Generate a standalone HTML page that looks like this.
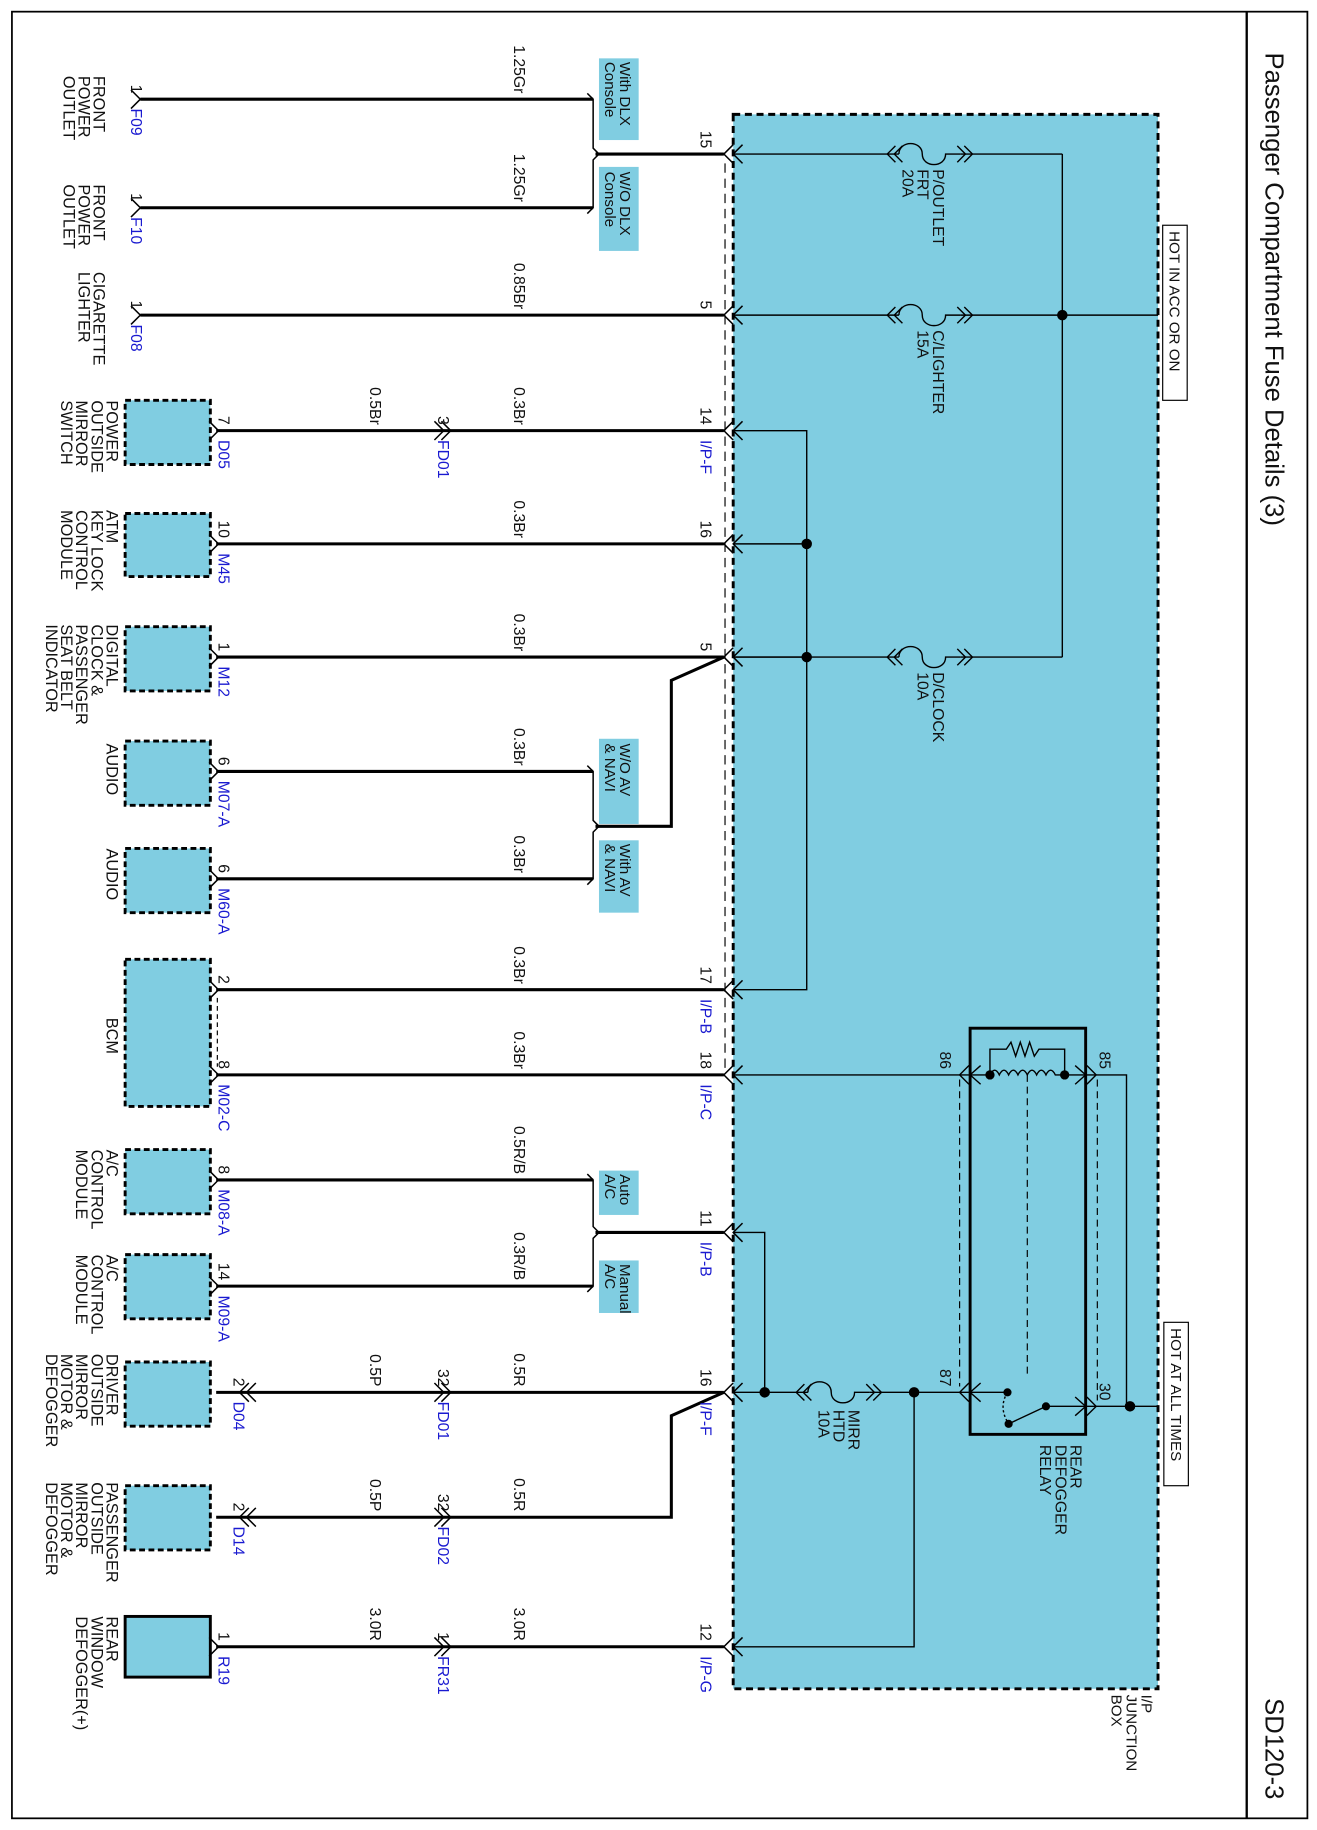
<!DOCTYPE html>
<html><head><meta charset="utf-8"><style>
html,body{margin:0;padding:0;background:#fff}
svg{display:block}
text{font-family:"Liberation Sans",Arial,sans-serif;fill:#111}
.b{fill:#1a1ad0}
</style></head><body>
<svg width="1317" height="1830" viewBox="0 0 1128 1568" xmlns="http://www.w3.org/2000/svg">
<rect x="10" y="10" width="1110" height="1548" fill="none" stroke="#000" stroke-width="1.5"/>
<line x1="1068" y1="10" x2="1068" y2="1558" stroke="#000" stroke-width="2"/>
<text font-size="22" transform="translate(1084,45) rotate(90)">Passenger Compartment Fuse Details (3)</text>
<text font-size="22" transform="translate(1084,1455) rotate(90)">SD120-3</text>

<!-- junction box -->
<rect x="628" y="98" width="364" height="1349" fill="#80CDE1" stroke="#000" stroke-width="2.5" stroke-dasharray="6,4"/>
<line x1="621" y1="140" x2="621" y2="915" stroke="#000" stroke-width="1" stroke-dasharray="8,5"/>

<g font-size="13" >
<rect x="996" y="193" width="21" height="150" fill="#fff" stroke="#000"/>
<text transform="translate(1002,198) rotate(90)">HOT IN ACC OR ON</text>
<rect x="997" y="1133" width="21" height="140" fill="#fff" stroke="#000"/>
<text transform="translate(1003,1138) rotate(90)">HOT AT ALL TIMES</text>
<text transform="translate(978,1452) rotate(90)"><tspan x="0">I/P</tspan><tspan x="0" dy="13">JUNCTION</tspan><tspan x="0" dy="13">BOX</tspan></text>
</g>

<!-- option boxes -->
<g fill="#80CDE1">
<rect x="513" y="50" width="34" height="70"/>
<rect x="513" y="143" width="34" height="72"/>
<rect x="513" y="633" width="34" height="73"/>
<rect x="513" y="720" width="34" height="62"/>
<rect x="513" y="1003" width="34" height="38"/>
<rect x="513" y="1080" width="34" height="45"/>
</g>
<g font-size="13">
<text transform="translate(531,53) rotate(90)"><tspan x="0">With DLX</tspan><tspan x="0" dy="13">Console</tspan></text>
<text transform="translate(531,147) rotate(90)"><tspan x="0">W/O DLX</tspan><tspan x="0" dy="13">Console</tspan></text>
<text transform="translate(531,637) rotate(90)"><tspan x="0">W/O AV</tspan><tspan x="0" dy="13">&amp; NAVI</tspan></text>
<text transform="translate(531,723) rotate(90)"><tspan x="0">With AV</tspan><tspan x="0" dy="13">&amp; NAVI</tspan></text>
<text transform="translate(531,1006) rotate(90)"><tspan x="0">Auto</tspan><tspan x="0" dy="13">A/C</tspan></text>
<text transform="translate(531,1083) rotate(90)"><tspan x="0">Manual</tspan><tspan x="0" dy="13">A/C</tspan></text>
</g>

<!-- components -->
<g fill="#80CDE1" stroke="#000" stroke-width="2.5" stroke-dasharray="5,3">
<rect x="107" y="343" width="73" height="55"/>
<rect x="107" y="440" width="73" height="54"/>
<rect x="107" y="537" width="73" height="55"/>
<rect x="107" y="635" width="73" height="55"/>
<rect x="107" y="727" width="73" height="55"/>
<rect x="107" y="822" width="73" height="126"/>
<rect x="107" y="985" width="73" height="55"/>
<rect x="107" y="1075" width="73" height="55"/>
<rect x="107" y="1167" width="73" height="55"/>
<rect x="107" y="1273" width="73" height="55"/>
</g>
<rect x="107" y="1385" width="73" height="52" fill="#80CDE1" stroke="#000" stroke-width="2.5"/>
<line x1="186" y1="855" x2="186" y2="914" stroke="#000" stroke-dasharray="4,3"/>

<g font-size="14">
<text transform="translate(80,65) rotate(90)"><tspan x="0">FRONT</tspan><tspan x="0" dy="13">POWER</tspan><tspan x="0" dy="13">OUTLET</tspan></text>
<text transform="translate(80,158) rotate(90)"><tspan x="0">FRONT</tspan><tspan x="0" dy="13">POWER</tspan><tspan x="0" dy="13">OUTLET</tspan></text>
<text transform="translate(80,233) rotate(90)"><tspan x="0">CIGARETTE</tspan><tspan x="0" dy="13">LIGHTER</tspan></text>
<text transform="translate(91,343) rotate(90)"><tspan x="0">POWER</tspan><tspan x="0" dy="13">OUTSIDE</tspan><tspan x="0" dy="13">MIRROR</tspan><tspan x="0" dy="13">SWITCH</tspan></text>
<text transform="translate(91,437) rotate(90)"><tspan x="0">ATM</tspan><tspan x="0" dy="13">KEY LOCK</tspan><tspan x="0" dy="13">CONTROL</tspan><tspan x="0" dy="13">MODULE</tspan></text>
<text transform="translate(91,535) rotate(90)"><tspan x="0">DIGITAL</tspan><tspan x="0" dy="13">CLOCK &amp;</tspan><tspan x="0" dy="13">PASSENGER</tspan><tspan x="0" dy="13">SEAT BELT</tspan><tspan x="0" dy="13">INDICATOR</tspan></text>
<text transform="translate(91,637) rotate(90)">AUDIO</text>
<text transform="translate(91,727) rotate(90)">AUDIO</text>
<text transform="translate(91,872) rotate(90)">BCM</text>
<text transform="translate(91,985) rotate(90)"><tspan x="0">A/C</tspan><tspan x="0" dy="13">CONTROL</tspan><tspan x="0" dy="13">MODULE</tspan></text>
<text transform="translate(91,1075) rotate(90)"><tspan x="0">A/C</tspan><tspan x="0" dy="13">CONTROL</tspan><tspan x="0" dy="13">MODULE</tspan></text>
<text transform="translate(91,1160) rotate(90)"><tspan x="0">DRIVER</tspan><tspan x="0" dy="13">OUTSIDE</tspan><tspan x="0" dy="13">MIRROR</tspan><tspan x="0" dy="13">MOTOR &amp;</tspan><tspan x="0" dy="13">DEFOGGER</tspan></text>
<text transform="translate(91,1270) rotate(90)"><tspan x="0">PASSENGER</tspan><tspan x="0" dy="13">OUTSIDE</tspan><tspan x="0" dy="13">MIRROR</tspan><tspan x="0" dy="13">MOTOR &amp;</tspan><tspan x="0" dy="13">DEFOGGER</tspan></text>
<text transform="translate(91,1385) rotate(90)"><tspan x="0">REAR</tspan><tspan x="0" dy="13">WINDOW</tspan><tspan x="0" dy="13">DEFOGGER(+)</tspan></text>
</g>

<!-- external wires -->
<g stroke="#000" stroke-width="2.6" fill="none">
<line x1="120" y1="85" x2="508" y2="85"/>
<line x1="120" y1="178" x2="508" y2="178"/>
<line x1="510" y1="132" x2="620" y2="132"/>
<line x1="120" y1="270" x2="620" y2="270"/>
<line x1="185" y1="369" x2="620" y2="369"/>
<line x1="185" y1="466" x2="620" y2="466"/>
<line x1="185" y1="563" x2="620" y2="563"/>
<polyline points="620,563 575,583 575,708 510,708"/>
<line x1="185" y1="661" x2="508" y2="661"/>
<line x1="185" y1="753" x2="508" y2="753"/>
<line x1="185" y1="848" x2="620" y2="848"/>
<line x1="185" y1="921" x2="620" y2="921"/>
<line x1="185" y1="1011" x2="508" y2="1011"/>
<line x1="185" y1="1102" x2="508" y2="1102"/>
<line x1="510" y1="1056" x2="620" y2="1056"/>
<line x1="185" y1="1193" x2="620" y2="1193"/>
<polyline points="620,1193 575,1213 575,1300 185,1300"/>
<line x1="185" y1="1411" x2="620" y2="1411"/>
</g>
<!-- brackets -->
<g stroke="#000" stroke-width="1.3" fill="none">
<polyline points="503,80 508,85 508,127 513,132 508,137 508,178 503,183"/>
<polyline points="503,656 508,661 508,703 513,708 508,713 508,753 503,758"/>
<polyline points="503,1006 508,1011 508,1051 513,1056 508,1061 508,1102 503,1107"/>
</g>

<!-- chevrons -->
<g stroke="#000" stroke-width="1.3" fill="none">
<!-- component side -->
<polyline points="112,77 120,85 112,93"/><polyline points="112,170 120,178 112,186"/><polyline points="112,262 120,270 112,278"/>
<polyline points="179,361 187,369 179,377"/><polyline points="179,458 187,466 179,474"/><polyline points="179,555 187,563 179,571"/>
<polyline points="179,653 187,661 179,669"/><polyline points="179,745 187,753 179,761"/><polyline points="179,840 187,848 179,856"/>
<polyline points="179,913 187,921 179,929"/><polyline points="179,1003 187,1011 179,1019"/><polyline points="179,1094 187,1102 179,1110"/>
<polyline points="179,1403 187,1411 179,1419"/>
<polyline points="213,1185 205,1193 213,1201"/><polyline points="219,1185 211,1193 219,1201"/>
<polyline points="213,1292 205,1300 213,1308"/><polyline points="219,1292 211,1300 219,1308"/>
<!-- inline -->
<polyline points="372,361 380,369 372,377"/><polyline points="378,361 386,369 378,377"/>
<polyline points="372,1185 380,1193 372,1201"/><polyline points="378,1185 386,1193 378,1201"/>
<polyline points="372,1292 380,1300 372,1308"/><polyline points="378,1292 386,1300 378,1308"/>
<polyline points="372,1403 380,1411 372,1419"/><polyline points="378,1403 386,1411 378,1419"/>
<!-- box side -->
<polyline points="628,124 620,132 628,140"/><polyline points="628,262 620,270 628,278"/><polyline points="628,361 620,369 628,377"/>
<polyline points="628,458 620,466 628,474"/><polyline points="628,555 620,563 628,571"/><polyline points="628,840 620,848 628,856"/>
<polyline points="628,913 620,921 628,929"/><polyline points="628,1048 620,1056 628,1064"/><polyline points="628,1185 620,1193 628,1201"/>
<polyline points="628,1403 620,1411 628,1419"/>
<polyline points="636,124 628,132 636,140"/><polyline points="636,262 628,270 636,278"/><polyline points="636,361 628,369 636,377"/>
<polyline points="636,458 628,466 636,474"/><polyline points="636,555 628,563 636,571"/><polyline points="636,840 628,848 636,856"/>
<polyline points="636,913 628,921 636,929"/><polyline points="636,1048 628,1056 636,1064"/><polyline points="636,1185 628,1193 636,1201"/>
<polyline points="636,1403 628,1411 636,1419"/>
</g>

<!-- internal wiring -->
<g stroke="#000" stroke-width="1.2" fill="none">
<line x1="628" y1="132" x2="770" y2="132"/><line x1="823" y1="132" x2="910" y2="132"/>
<line x1="628" y1="270" x2="770" y2="270"/><line x1="823" y1="270" x2="992" y2="270"/>
<line x1="628" y1="563" x2="770" y2="563"/><line x1="823" y1="563" x2="910" y2="563"/>
<line x1="910" y1="132" x2="910" y2="563"/>
<polyline points="628,369 691,369 691,848 628,848"/>
<line x1="628" y1="466" x2="691" y2="466"/><line x1="628" y1="563" x2="691" y2="563"/>
<line x1="628" y1="921" x2="830" y2="921"/>
<polyline points="628,1056 655,1056 655,1193"/>
<line x1="628" y1="1193" x2="692" y2="1193"/><line x1="745" y1="1193" x2="830" y2="1193"/>
<polyline points="783,1193 783,1411 628,1411"/>
<polyline points="930,921 965,921 965,1205 992,1205"/>
<line x1="930" y1="1205" x2="965" y2="1205"/>
<!-- fuses -->
<path d="M770,132 C770,120 790,120 790,132 S810,144 810,132 L823,132"/>
<path d="M770,270 C770,258 790,258 790,270 S810,282 810,270 L823,270"/>
<path d="M770,563 C770,551 790,551 790,563 S810,575 810,563 L823,563"/>
<path d="M692,1193 C692,1181 712,1181 712,1193 S732,1205 732,1193 L745,1193"/>
<!-- fuse chevrons -->
<polyline points="767,125 760,132 767,139"/><polyline points="773,125 766,132 773,139"/>
<polyline points="826,125 833,132 826,139"/><polyline points="820,125 827,132 820,139"/>
<polyline points="767,263 760,270 767,277"/><polyline points="773,263 766,270 773,277"/>
<polyline points="826,263 833,270 826,277"/><polyline points="820,263 827,270 820,277"/>
<polyline points="767,556 760,563 767,570"/><polyline points="773,556 766,563 773,570"/>
<polyline points="826,556 833,563 826,570"/><polyline points="820,556 827,563 820,570"/>
<polyline points="689,1186 682,1193 689,1200"/><polyline points="695,1186 688,1193 695,1200"/>
<polyline points="748,1186 755,1193 748,1200"/><polyline points="742,1186 749,1193 742,1200"/>
</g>
<g fill="#000">
<circle cx="910" cy="270" r="4.5"/><circle cx="691" cy="466" r="4.5"/><circle cx="691" cy="563" r="4.5"/>
<circle cx="655" cy="1193" r="4.5"/><circle cx="783" cy="1193" r="4.5"/><circle cx="968" cy="1205" r="4.5"/>
</g>

<!-- relay -->
<rect x="831" y="881" width="99" height="348" fill="none" stroke="#000" stroke-width="2.5"/>
<g stroke="#000" stroke-width="1" fill="none" stroke-dasharray="6,4">
<line x1="822" y1="925" x2="822" y2="1188"/>
<line x1="940" y1="925" x2="940" y2="1200"/>
<line x1="880" y1="921" x2="880" y2="1180"/>
</g>
<g stroke="#000" stroke-width="1.2" fill="none">
<polyline points="840,913 831,921 840,929"/><polyline points="830,913 822,921 830,929"/>
<polyline points="921,913 930,921 921,929"/><polyline points="931,913 939,921 931,929"/>
<polyline points="840,1185 831,1193 840,1201"/><polyline points="830,1185 822,1193 830,1201"/>
<polyline points="921,1197 930,1205 921,1213"/><polyline points="931,1197 939,1205 931,1213"/>
<line x1="831" y1="921" x2="848" y2="921"/><line x1="912" y1="921" x2="930" y2="921"/>
<path d="M848,921 q4,-8 8,0 q4,-8 8,0 q4,-8 8,0 q4,-8 8,0 q4,-8 8,0 q4,-8 8,0 q4,-8 8,0 l8,0"/>
<polyline points="848,921 848,899 862,899 866,893 870,905 874,893 878,905 882,893 886,905 890,899 912,899 912,921"/>
<line x1="831" y1="1193" x2="863" y2="1193"/>
<line x1="896" y1="1205" x2="930" y2="1205"/>
<line x1="864" y1="1220" x2="896" y2="1205"/>
<path d="M863,1193 q-8,13 1,27" stroke-dasharray="2,2"/>
</g>
<g fill="#000">
<circle cx="848" cy="921" r="4"/><circle cx="912" cy="921" r="4"/>
<circle cx="863" cy="1193" r="3.5"/><circle cx="864" cy="1220" r="3.5"/><circle cx="896" cy="1205" r="3.5"/>
</g>

<!-- inner labels -->
<g font-size="13.5">
<text transform="translate(799,145) rotate(90)"><tspan x="0">P/OUTLET</tspan><tspan x="0" dy="13">FRT</tspan><tspan x="0" dy="13">20A</tspan></text>
<text transform="translate(799,283) rotate(90)"><tspan x="0">C/LIGHTER</tspan><tspan x="0" dy="13">15A</tspan></text>
<text transform="translate(799,576) rotate(90)"><tspan x="0">D/CLOCK</tspan><tspan x="0" dy="13">10A</tspan></text>
<text transform="translate(727,1208) rotate(90)"><tspan x="0">MIRR</tspan><tspan x="0" dy="13">HTD</tspan><tspan x="0" dy="13">10A</tspan></text>
<text transform="translate(917,1238) rotate(90)"><tspan x="0">REAR</tspan><tspan x="0" dy="13">DEFOGGER</tspan><tspan x="0" dy="13">RELAY</tspan></text>
<text text-anchor="end" transform="translate(805,916) rotate(90)">86</text>
<text text-anchor="end" transform="translate(942,916) rotate(90)">85</text>
<text text-anchor="end" transform="translate(805,1188) rotate(90)">87</text>
<text text-anchor="end" transform="translate(942,1200) rotate(90)">30</text>
</g>

<!-- wire labels -->
<g font-size="13.5" text-anchor="end">
<text transform="translate(440,80) rotate(90)">1.25Gr</text>
<text transform="translate(440,173) rotate(90)">1.25Gr</text>
<text transform="translate(440,265) rotate(90)">0.85Br</text>
<text transform="translate(440,364) rotate(90)">0.3Br</text>
<text transform="translate(317,364) rotate(90)">0.5Br</text>
<text transform="translate(440,461) rotate(90)">0.3Br</text>
<text transform="translate(440,558) rotate(90)">0.3Br</text>
<text transform="translate(440,656) rotate(90)">0.3Br</text>
<text transform="translate(440,748) rotate(90)">0.3Br</text>
<text transform="translate(440,843) rotate(90)">0.3Br</text>
<text transform="translate(440,916) rotate(90)">0.3Br</text>
<text transform="translate(440,1006) rotate(90)">0.5R/B</text>
<text transform="translate(440,1097) rotate(90)">0.3R/B</text>
<text transform="translate(440,1188) rotate(90)">0.5R</text>
<text transform="translate(317,1188) rotate(90)">0.5P</text>
<text transform="translate(440,1295) rotate(90)">0.5R</text>
<text transform="translate(317,1295) rotate(90)">0.5P</text>
<text transform="translate(440,1406) rotate(90)">3.0R</text>
<text transform="translate(317,1406) rotate(90)">3.0R</text>
<!-- pin numbers -->
<text transform="translate(600,127) rotate(90)">15</text>
<text transform="translate(600,265) rotate(90)">5</text>
<text transform="translate(600,364) rotate(90)">14</text>
<text transform="translate(600,461) rotate(90)">16</text>
<text transform="translate(600,558) rotate(90)">5</text>
<text transform="translate(600,843) rotate(90)">17</text>
<text transform="translate(600,916) rotate(90)">18</text>
<text transform="translate(600,1051) rotate(90)">11</text>
<text transform="translate(600,1188) rotate(90)">16</text>
<text transform="translate(600,1406) rotate(90)">12</text>
<text transform="translate(375,364) rotate(90)">3</text>
<text transform="translate(375,1188) rotate(90)">32</text>
<text transform="translate(375,1295) rotate(90)">32</text>
<text transform="translate(375,1406) rotate(90)">1</text>
<text transform="translate(112,80) rotate(90)">1</text>
<text transform="translate(112,173) rotate(90)">1</text>
<text transform="translate(112,265) rotate(90)">1</text>
<text transform="translate(187,364) rotate(90)">7</text>
<text transform="translate(187,461) rotate(90)">10</text>
<text transform="translate(187,558) rotate(90)">1</text>
<text transform="translate(187,656) rotate(90)">6</text>
<text transform="translate(187,748) rotate(90)">6</text>
<text transform="translate(187,843) rotate(90)">2</text>
<text transform="translate(187,916) rotate(90)">8</text>
<text transform="translate(187,1006) rotate(90)">8</text>
<text transform="translate(187,1097) rotate(90)">14</text>
<text transform="translate(200,1188) rotate(90)">2</text>
<text transform="translate(200,1295) rotate(90)">2</text>
<text transform="translate(187,1406) rotate(90)">1</text>
</g>
<g font-size="13.5" class="b">
<text class="b" transform="translate(112,93) rotate(90)">F09</text>
<text class="b" transform="translate(112,186) rotate(90)">F10</text>
<text class="b" transform="translate(112,278) rotate(90)">F08</text>
<text class="b" transform="translate(187,377) rotate(90)">D05</text>
<text class="b" transform="translate(187,474) rotate(90)">M45</text>
<text class="b" transform="translate(187,571) rotate(90)">M12</text>
<text class="b" transform="translate(187,669) rotate(90)">M07-A</text>
<text class="b" transform="translate(187,761) rotate(90)">M60-A</text>
<text class="b" transform="translate(187,929) rotate(90)">M02-C</text>
<text class="b" transform="translate(187,1019) rotate(90)">M08-A</text>
<text class="b" transform="translate(187,1110) rotate(90)">M09-A</text>
<text class="b" transform="translate(200,1201) rotate(90)">D04</text>
<text class="b" transform="translate(200,1308) rotate(90)">D14</text>
<text class="b" transform="translate(187,1419) rotate(90)">R19</text>
<text class="b" transform="translate(375,377) rotate(90)">FD01</text>
<text class="b" transform="translate(375,1201) rotate(90)">FD01</text>
<text class="b" transform="translate(375,1308) rotate(90)">FD02</text>
<text class="b" transform="translate(375,1419) rotate(90)">FR31</text>
<text class="b" transform="translate(600,377) rotate(90)">I/P-F</text>
<text class="b" transform="translate(600,856) rotate(90)">I/P-B</text>
<text class="b" transform="translate(600,929) rotate(90)">I/P-C</text>
<text class="b" transform="translate(600,1064) rotate(90)">I/P-B</text>
<text class="b" transform="translate(600,1201) rotate(90)">I/P-F</text>
<text class="b" transform="translate(600,1419) rotate(90)">I/P-G</text>
</g>
</svg>
</body></html>
